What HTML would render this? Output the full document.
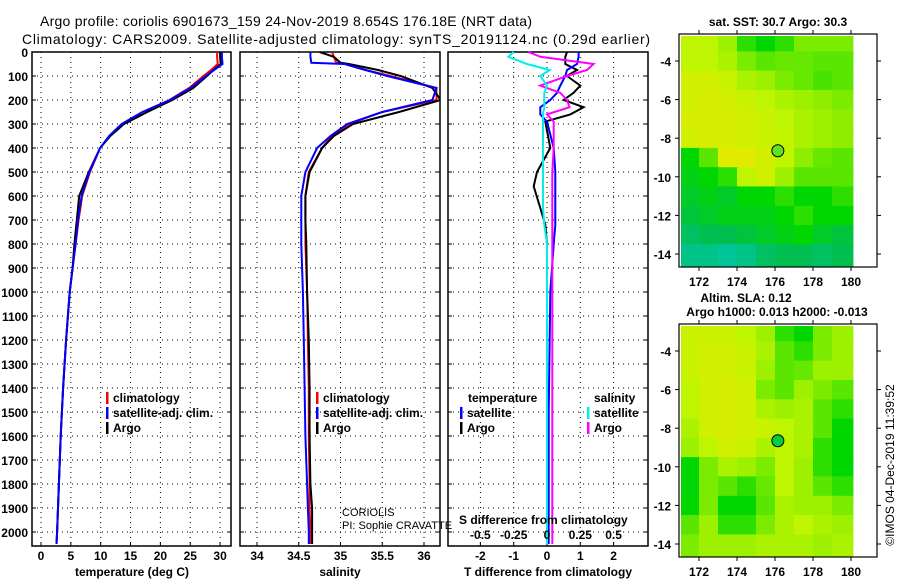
<!DOCTYPE html>
<html><head><meta charset="utf-8"><style>
body{margin:0;background:#fff}
svg{display:block;font-family:"Liberation Sans",sans-serif}
.t{font-weight:bold;font-size:12px}
</style></head><body>
<svg id="s" width="900" height="580" viewBox="0 0 900 580">
<text x="40" y="26" font-size="14" textLength="492">Argo profile: coriolis 6901673_159 24-Nov-2019 8.654S 176.18E (NRT data)</text>
<text x="22" y="44" font-size="14" textLength="628">Climatology: CARS2009. Satellite-adjusted climatology: synTS_20191124.nc (0.29d earlier)</text>
</svg>
<script>
// ---- profile data ----
const tDepth=[0,20,50,75,100,150,200,250,300,350,400,500,600,700,800,900,1000,1200,1400,1600,1800,2000,2050];
const tClim=[29.5,29.5,29.6,28.5,27.2,24.8,21.5,17,13.6,11.5,9.9,8.2,6.9,6.3,5.8,5.3,4.8,4.2,3.7,3.3,3,2.7,2.6];
const tSat=[30.3,30.3,30.4,29,27.6,25,21.6,17,13.5,11.4,9.9,8.1,6.8,6.2,5.8,5.3,4.8,4.2,3.7,3.3,3,2.7,2.6];
const tArgo=[30,30,30.1,28.9,27.8,25.5,22,17.8,13.9,11.6,9.9,8,6.4,6,5.6,5.3,4.8,4.2,3.7,3.3,3,2.7,2.6];
const sDepth=[0,20,45,50,75,100,150,200,250,300,350,400,500,600,700,800,1000,1200,1400,1600,1800,1900,2000,2050];
const sClim=[34.9,34.92,34.95,35.05,35.3,35.6,36.15,36.15,35.5,35.1,34.9,34.78,34.62,34.58,34.58,34.58,34.6,34.61,34.62,34.62,34.63,34.63,34.64,34.64];
const sSat=[34.64,34.64,34.65,35.05,35.3,35.56,36.15,36.1,35.5,35.08,34.88,34.72,34.58,34.53,34.53,34.53,34.55,34.56,34.57,34.58,34.6,34.61,34.62,34.62];
const sArgo=[34.75,34.92,35.0,35.1,35.45,35.72,36.1,36.2,35.7,35.15,34.92,34.78,34.63,34.58,34.58,34.59,34.6,34.62,34.63,34.63,34.64,34.66,34.66,34.66];
const dDepth=[0,20,50,75,100,140,170,200,230,260,290,400,500,560,650,720,800,1000,1500,2050];
const dTArgo=[0.6,0.55,0.55,0.9,0.6,1.0,0.8,0.5,1.1,0.7,-0.05,0.1,-0.3,-0.4,-0.2,-0.05,0,0,0,0];
const dTSat=[0.95,0.95,0.9,0.6,0.55,0.4,0.3,0.1,-0.2,-0.2,0,0.2,0.25,0.25,0.25,0.25,0.2,0.1,0.05,0.05];
const dSArgo=[-0.14,-0.05,0.35,0.3,0.15,-0.05,0.1,0.15,0.17,0,0.05,0.05,0.04,0.04,0.04,0.04,0.04,0.04,0.04,0.04];
const dSSat=[-0.25,-0.29,-0.15,0.02,-0.05,0,-0.02,-0.02,-0.02,-0.03,-0.03,-0.03,-0.03,-0.03,-0.03,-0.02,0,0,0,0];
const depthTicks=[0,100,200,300,400,500,600,700,800,900,1000,1100,1200,1300,1400,1500,1600,1700,1800,1900,2000];
const tTicks=[0,5,10,15,20,25,30];
const sTicks=[34,34.5,35,35.5,36];
const sTickLbl=["34","34.5","35","35.5","36"];
const dTTicks=[-2,-1,0,1,2];
const dSTicks=[-0.5,-0.25,0,0.25,0.5];
const dSTickLbl=["-0.5","-0.25","0","0.25","0.5"];
// ---- map data (rows lat -3..-14, cols lon 171..179) ----
const mapLons=[171.6,172.6,173.6,174.6,175.6,176.6,177.6,178.6,179.6];
const mapLats=[-3,-4,-5,-6,-7,-8,-9,-10,-11,-12,-13,-14];
const sstVals=[
[0.75,0.75,0.7,0.55,0.5,0.55,0.65,0.65,0.65],
[0.75,0.75,0.72,0.65,0.6,0.62,0.62,0.6,0.6],
[0.8,0.8,0.78,0.72,0.7,0.65,0.62,0.58,0.6],
[0.8,0.82,0.8,0.78,0.75,0.72,0.7,0.68,0.65],
[0.82,0.82,0.82,0.8,0.78,0.75,0.72,0.7,0.68],
[0.8,0.82,0.82,0.8,0.78,0.76,0.72,0.7,0.68],
[0.5,0.6,0.85,0.85,0.8,0.75,0.68,0.62,0.6],
[0.45,0.5,0.55,0.75,0.8,0.7,0.6,0.6,0.6],
[0.4,0.45,0.4,0.5,0.5,0.55,0.5,0.5,0.55],
[0.35,0.4,0.45,0.45,0.45,0.5,0.55,0.5,0.5],
[0.25,0.3,0.3,0.35,0.4,0.45,0.5,0.4,0.35],
[0.15,0.15,0.1,0.15,0.25,0.3,0.3,0.25,0.3]];
const slaVals=[
[0.78,0.78,0.78,0.75,0.7,0.55,0.5,0.65,0.7],
[0.78,0.8,0.8,0.78,0.72,0.6,0.55,0.65,0.7],
[0.78,0.8,0.8,0.78,0.7,0.6,0.62,0.7,0.7],
[0.75,0.8,0.82,0.8,0.65,0.6,0.7,0.65,0.6],
[0.75,0.8,0.82,0.8,0.72,0.7,0.72,0.6,0.55],
[0.72,0.8,0.82,0.8,0.78,0.75,0.72,0.6,0.5],
[0.7,0.75,0.8,0.78,0.72,0.75,0.72,0.55,0.5],
[0.5,0.65,0.72,0.7,0.65,0.75,0.7,0.55,0.5],
[0.48,0.65,0.6,0.55,0.62,0.75,0.7,0.6,0.55],
[0.5,0.65,0.5,0.5,0.6,0.72,0.7,0.7,0.65],
[0.6,0.7,0.55,0.55,0.65,0.72,0.75,0.72,0.7],
[0.65,0.7,0.7,0.7,0.72,0.72,0.72,0.7,0.72]];
const mapLonTicks=[172,174,176,178,180];
const mapLatTicks=[-4,-6,-8,-10,-12,-14];
const floatPos=[176.15,-8.65];

const S=document.getElementById('s');const NS='http://www.w3.org/2000/svg';
function mk(tag,attrs,parent){const e=document.createElementNS(NS,tag);for(const k in attrs)e.setAttribute(k,attrs[k]);(parent||S).appendChild(e);return e;}
function txt(x,y,s,cls,anchor,size){const e=mk('text',{x:x,y:y,'text-anchor':anchor||'start'});if(cls)e.setAttribute('class',cls);if(size)e.setAttribute('font-size',size);e.textContent=s;return e;}

const Y0=52,PXM=0.24;
const yD=d=>Y0+d*PXM;
const TOP=52,BOT=546;
function panel(x0,x1,name){
  const g=mk('g',{});
  
  
  return g;
}
function frame(g,x0,x1,vgrid,name){
  depthTicks.forEach(d=>{const y=yD(d);mk('line',{x1:x0,x2:x1,y1:y,y2:y,stroke:'#000','stroke-dasharray':'1,4','stroke-width':1},g);mk('line',{x1:x0,x2:x0+4,y1:y,y2:y,stroke:'#000'},g);mk('line',{x1:x1-4,x2:x1,y1:y,y2:y,stroke:'#000'},g);});
  vgrid.forEach(x=>{mk('line',{x1:x,x2:x,y1:TOP,y2:BOT,stroke:'#000','stroke-dasharray':'1,4'},g);mk('line',{x1:x,x2:x,y1:BOT-4,y2:BOT,stroke:'#000'},g);});
  const r=mk('rect',{x:x0,y:TOP,width:x1-x0,height:BOT-TOP,fill:'none',stroke:'#000','stroke-width':1.5},g);
  
  
}
function line(g,xs,ds,fx,col,name){
  const p=mk('polyline',{points:xs.map((v,i)=>fx(v).toFixed(1)+','+yD(ds[i]).toFixed(1)).join(' '),fill:'none',stroke:col,'stroke-width':2},g);
  
  
}
function legend(g,x,y,col,label,name){
  const r=mk('rect',{x:x,y:y-10,width:2.5,height:12,fill:col},g);
  
  
  const t=txt(x+7,y,label,'t');g.appendChild(t);
  
  
}

// panel 1 temperature
const xT=v=>41+v*5.97;
const g1=panel(32,231,'temperature-panel');
frame(g1,32,231,tTicks.map(xT),'temperature-panel');
line(g1,tClim,tDepth,xT,'#f00','temperature-climatology-line');
line(g1,tArgo,tDepth,xT,'#000','temperature-argo-line');
line(g1,tSat,tDepth,xT,'#00f','temperature-satellite-line');
depthTicks.forEach(d=>{const t=txt(28,yD(d)+5,String(d),'t','end');});
tTicks.forEach(v=>{const t=txt(xT(v),560,String(v),'t','middle');});
{const t=txt(132,576,'temperature (deg C)','t','middle');}
legend(g1,106,402,'#f00','climatology','legend-climatology');
legend(g1,106,417,'#00f','satellite-adj. clim.','legend-satellite');
legend(g1,106,432,'#000','Argo','legend-argo');

// panel 2 salinity
const xS=v=>257+(v-34)*83.5;
const g2=panel(240,440,'salinity-panel');
frame(g2,240,440,sTicks.map(xS),'salinity-panel');
g2.appendChild(mk('clipPath',{id:'c2'})).appendChild(mk('rect',{x:240,y:TOP,width:200,height:BOT-TOP}));
const g2c=mk('g',{'clip-path':'url(#c2)'},g2);
line(g2c,sClim,sDepth,xS,'#f00','salinity-climatology-line');
line(g2c,sArgo,sDepth,xS,'#000','salinity-argo-line');
line(g2c,sSat,sDepth,xS,'#00f','salinity-satellite-line');
sTicks.forEach((v,i)=>{const t=txt(xS(v),560,sTickLbl[i],'t','middle');});
{const t=txt(340,576,'salinity','t','middle');}
legend(g2,316,402,'#f00','climatology','legend-climatology-s');
legend(g2,316,417,'#00f','satellite-adj. clim.','legend-satellite-s');
legend(g2,316,432,'#000','Argo','legend-argo-s');
{const t=txt(342,516,'CORIOLIS',null,'start',11);
 const u=txt(342,529,'PI: Sophie CRAVATTE',null,'start',11);}

// panel 3 differences
const xDT=v=>547+v*33.3;
const xDS=v=>547+v*133.2;
const g3=panel(448,648,'difference-panel');
frame(g3,448,648,dTTicks.map(xDT),'difference-panel');
line(g3,dTArgo,dDepth,xDT,'#000','t-diff-argo-line');
line(g3,dTSat,dDepth,xDT,'#00f','t-diff-satellite-line');
line(g3,dSArgo,dDepth,xDS,'#f0f','s-diff-argo-line');
line(g3,dSSat,dDepth,xDS,'#0ee','s-diff-satellite-line');
{const t=txt(468,402,'temperature','t');
 const u=txt(594,402,'salinity','t');}
legend(g3,460,417,'#00f','satellite','legend-t-satellite');
legend(g3,460,432,'#000','Argo','legend-t-argo');
legend(g3,587,417,'#0ee','satellite','legend-s-satellite');
legend(g3,587,432,'#f0f','Argo','legend-s-argo');
{const t=txt(459,524,'S difference from climatology','t');}
dSTicks.forEach((v,i)=>{const t=txt(xDS(v),539,dSTickLbl[i],'t','middle');});
dTTicks.forEach(v=>{const t=txt(xDT(v),560,String(v),'t','middle');});
{const t=txt(548,576,'T difference from climatology','t','middle');}

// maps
function cmap(v){const st=[[0,[0,200,190]],[0.3,[0,190,80]],[0.5,[0,215,0]],[0.6,[90,230,0]],[0.75,[190,245,0]],[0.85,[225,235,0]],[1,[240,170,0]]];
 for(let i=1;i<st.length;i++){if(v<=st[i][0]){const a=st[i-1],b=st[i],f=(v-a[0])/(b[0]-a[0]);return 'rgb('+a[1].map((c,k)=>Math.round(c+(b[1][k]-c)*f)).join(',')+')';}}return 'rgb(240,170,0)';}
function map(yTop,y4,vals,name,fillDot){
  const lx=v=>699+(v-172)*19, ly=v=>y4+(-4-v)*19.3;
  const g=mk('g',{});
  
  
  vals.forEach((row,ri)=>row.forEach((v,ci)=>{const lon=mapLons[ci],lat=mapLats[ri];
    const x0=Math.max(681,lx(lon-0.6)),x1=Math.min(853,lx(lon+0.5));const y0=Math.max(yTop+2,ly(lat+0.5)),y1=Math.min(yTop+233,ly(lat-0.7));
    const r=mk('rect',{x:x0.toFixed(1),y:y0.toFixed(1),width:(x1-x0+0.5).toFixed(1),height:(y1-y0+0.5).toFixed(1),fill:cmap(v)},g);
    
    }));
  const c=mk('circle',{cx:lx(floatPos[0]),cy:ly(floatPos[1]),r:6,fill:fillDot,stroke:'#000','stroke-width':1},g);
  
  
  mk('rect',{x:679,y:yTop,width:198,height:233,fill:'none',stroke:'#000','stroke-width':1.2},g);
  mapLonTicks.forEach(v=>{mk('line',{x1:lx(v),x2:lx(v),y1:yTop,y2:yTop-4,stroke:'#000'},g);mk('line',{x1:lx(v),x2:lx(v),y1:yTop+233,y2:yTop+237,stroke:'#000'},g);
    const t=txt(lx(v),yTop+252,String(v),'t','middle',13);});
  mapLatTicks.forEach(v=>{mk('line',{x1:679,x2:675,y1:ly(v),y2:ly(v),stroke:'#000'},g);mk('line',{x1:877,x2:881,y1:ly(v),y2:ly(v),stroke:'#000'},g);
    const t=txt(671,ly(v)+5,String(v),'t','end',13);});
}
map(34,61,sstVals,'sst-map','#60e020');
map(324,351,slaVals,'sla-map','#00d040');
{const t=txt(778,26,'sat. SST: 30.7 Argo: 30.3','t','middle');
 const a=txt(746,302,'Altim. SLA: 0.12','t','middle');
 const b=txt(777,316,'Argo h1000: 0.013 h2000: -0.013','t','middle');
 const c=txt(0,0,'©IMOS 04-Dec-2019 11:39:52',null,'middle',12);c.setAttribute('transform','translate(894,465) rotate(-90)');}
</script>
</body></html>
